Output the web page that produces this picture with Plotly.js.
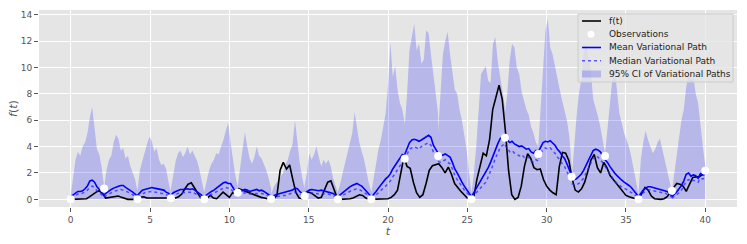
<!DOCTYPE html>
<html><head><meta charset="utf-8">
<script src="https://cdn.plot.ly/plotly-3.0.1.min.js"></script>
<style>html,body{margin:0;padding:0;background:#fff}#chart{width:747px;height:244px}</style>
</head><body><div id="chart"></div>
<script>
// Observation times and values
const obsT = [0, 2.105, 4.211, 6.316, 8.421, 10.526, 12.632, 14.737, 16.842, 18.947, 21.053, 23.158, 25.263, 27.368, 29.474, 31.579, 33.684, 35.789, 37.895, 40];
const obsY = [0, 0.83, 0, 0.08, 0, 0.5, 0.02, 0.25, 0, 0, 3.08, 3.28, 0, 4.67, 3.43, 1.71, 3.28, 0, 0.65, 2.17];

// true f(t) sampled every 0.2 from t=0 to t=40
const fStep = 0.2;
const fVals = [
0,0,0,0,0,0.05,0.2,0.4,0.55,0.65,
0.45,0.1,0.15,0.2,0.25,0.25,0.15,0.05,0,0,
0,0,0.15,0.2,0.1,0.1,0.05,0.05,0.05,0.05,
0.05,0.05,0.05,0.1,0.2,0.4,0.8,1.15,1.25,0.9,
0.45,0.1,0,0.1,0.3,0.1,0.05,0.3,0.55,0.35,
0.15,0.5,0.4,0.8,0.7,0.6,0.5,0.45,0.35,0.25,
0.15,0.1,0.05,0,0.05,0.3,2.2,2.8,2.3,2.6,
1.5,0.5,0.1,0.05,0.45,0.55,0.45,0.25,0.1,0.15,
0.7,1.3,1.4,0.7,0.1,0,0,0,0.05,0.1,
0.2,0.35,0.3,0.1,0,0,0,0,0,0,
0.05,0.15,0.35,0.7,1.9,3.2,2.5,2.35,1.3,0.5,
0.15,0.35,1.2,2.2,2.55,2.6,2.7,2.4,2.0,2.45,
1.9,1.2,0.85,0.6,0.35,0.1,0,0.1,1.5,2.6,
3.5,3.3,4.5,6.8,7.7,8.65,7.6,5.2,2.2,0.35,
0,0.15,1.0,2.5,3.45,3.1,2.4,2.25,2.3,1.5,
1.0,0.7,0.5,0.35,2.5,3.55,3.5,2.95,1.6,0.7,
0.55,0.8,1.3,2.2,3.0,3.4,2.4,2.0,2.8,2.4,
1.8,1.5,1.2,0.9,0.6,0.3,0.2,0.1,0.05,0,
0.4,0.9,0.7,0.25,0.05,0,0,0.05,0.2,0.55,
0.9,1.2,1.15,1.0,0.6,1.2,1.65,1.7,1.7,1.85,
1.95];

// Variational paths: 15 samples per interval between consecutive observations
const ptsPerSeg = 15;
const meanPath = [
[0.2,0.35,0.5,0.6,0.6,0.65,0.8,1.0,1.4,1.45,1.3,0.95,0.75,0.5,0.3],
[0.35,0.5,0.65,0.75,0.85,0.95,1.0,1.05,1.05,0.9,0.8,0.7,0.55,0.4,0.25],
[0.3,0.5,0.7,0.75,0.8,0.85,0.9,0.85,0.8,0.75,0.7,0.7,0.55,0.45,0.25],
[0.3,0.5,0.6,0.7,0.75,0.75,0.8,0.8,0.75,0.8,0.7,0.55,0.45,0.3,0.2],
[0.2,0.35,0.5,0.6,0.7,0.85,0.95,1.15,1.25,1.3,1.2,1.2,0.9,0.6,0.3],
[0.5,0.6,0.7,0.75,0.7,0.6,0.65,0.7,0.75,0.65,0.7,0.6,0.5,0.35,0.2],
[0.2,0.3,0.35,0.4,0.45,0.45,0.5,0.55,0.6,0.7,0.85,0.8,0.6,0.4,0.25],
[0.45,0.6,0.7,0.75,0.7,0.7,0.65,0.7,0.65,0.6,0.6,0.55,0.45,0.3,0.15],
[0.2,0.35,0.55,0.7,0.8,0.95,1.05,1.15,1.2,1.1,1.0,0.8,0.6,0.4,0.2],
[0.15,0.35,0.6,0.85,1.1,1.35,1.55,1.7,1.95,2.3,2.6,2.9,3.2,3.4,3.3],
[3.4,3.9,4.3,4.5,4.55,4.5,4.4,4.5,4.6,4.75,4.85,4.7,4.1,3.8,3.5],
[3.3,3.3,3.35,3.45,3.3,3.2,2.8,2.3,2.0,1.6,1.3,1.0,0.75,0.45,0.2],
[0.2,0.5,0.8,1.1,1.4,1.7,2.0,2.4,2.8,3.3,3.8,4.2,4.6,4.75,4.7],
[4.6,4.5,4.3,4.4,4.2,4.1,4.0,4.05,3.9,3.8,3.85,3.6,3.5,3.7,3.4],
[3.6,4.0,4.3,4.4,4.35,4.45,4.3,4.1,3.8,3.6,3.3,3.1,2.7,2.2,1.8],
[1.6,1.5,1.55,1.7,1.9,2.2,2.6,3.0,3.4,3.7,3.8,3.75,3.6,3.3,3.0],
[3.0,2.8,2.5,2.2,2.0,1.8,1.6,1.45,1.3,1.2,1.05,0.9,0.7,0.45,0.2],
[0.2,0.45,0.7,0.85,0.95,0.95,0.9,0.9,0.85,0.75,0.75,0.7,0.6,0.45,0.25],
[0.2,0.35,0.55,0.8,1.05,1.4,1.9,2.0,1.75,1.85,1.8,1.6,1.95,1.85,1.9]
];
const medianPath = [
[0.1,0.2,0.3,0.4,0.4,0.45,0.55,0.7,0.9,1.0,0.9,0.65,0.5,0.35,0.2],
[0.2,0.3,0.45,0.5,0.6,0.65,0.7,0.75,0.7,0.65,0.55,0.45,0.35,0.25,0.15],
[0.2,0.3,0.45,0.5,0.55,0.6,0.6,0.55,0.55,0.5,0.45,0.45,0.35,0.3,0.15],
[0.2,0.3,0.4,0.45,0.5,0.5,0.55,0.55,0.5,0.55,0.45,0.35,0.3,0.2,0.1],
[0.1,0.2,0.3,0.4,0.45,0.55,0.65,0.75,0.85,0.9,0.85,0.8,0.6,0.4,0.2],
[0.3,0.4,0.45,0.5,0.45,0.4,0.45,0.45,0.5,0.45,0.45,0.4,0.35,0.25,0.1],
[0.1,0.15,0.2,0.25,0.3,0.3,0.3,0.35,0.4,0.45,0.55,0.5,0.4,0.25,0.15],
[0.3,0.4,0.45,0.5,0.45,0.45,0.4,0.45,0.4,0.4,0.4,0.35,0.3,0.2,0.1],
[0.1,0.2,0.35,0.45,0.55,0.65,0.7,0.75,0.8,0.75,0.65,0.55,0.4,0.25,0.1],
[0.1,0.2,0.35,0.5,0.7,0.85,1.0,1.2,1.4,1.7,2.0,2.3,2.6,2.8,2.8],
[3.0,3.4,3.8,3.9,4.0,3.9,3.8,4.0,4.1,4.2,4.3,4.1,3.6,3.3,3.1],
[2.9,2.8,2.9,3.0,2.8,2.7,2.3,1.8,1.5,1.2,0.9,0.7,0.5,0.3,0.15],
[0.15,0.3,0.5,0.7,0.9,1.1,1.3,1.7,2.1,2.6,3.1,3.5,3.9,4.1,4.2],
[4.1,3.9,3.6,3.7,3.5,3.4,3.3,3.4,3.2,3.1,3.2,2.9,2.8,3.0,2.9],
[3.1,3.5,3.8,3.9,3.8,3.9,3.7,3.5,3.2,3.0,2.7,2.5,2.1,1.7,1.4],
[1.2,1.1,1.1,1.2,1.4,1.6,2.0,2.4,2.8,3.1,3.3,3.2,3.0,2.8,2.5],
[2.5,2.2,1.9,1.6,1.4,1.2,1.05,0.95,0.85,0.75,0.65,0.55,0.4,0.25,0.1],
[0.1,0.3,0.5,0.6,0.7,0.7,0.65,0.65,0.6,0.55,0.5,0.5,0.4,0.3,0.15],
[0.1,0.2,0.35,0.5,0.7,1.0,1.4,1.5,1.35,1.45,1.4,1.3,1.6,1.55,1.65]
];
const ciUpper = [
[0.3,1.5,3.0,3.6,3.3,4.0,4.3,5.0,6.2,7.0,5.5,3.8,3.4,2.4,1.0],
[0.9,2.2,3.0,3.3,4.3,4.9,4.6,3.7,3.9,3.1,3.3,2.5,2.0,1.5,0.6],
[0.7,2.2,2.9,3.6,4.2,4.75,4.4,3.6,3.9,3.0,2.6,2.7,2.3,1.3,0.5],
[0.8,1.9,2.9,3.5,3.7,3.2,3.5,4.0,3.4,3.7,3.3,2.9,2.2,1.4,0.5],
[0.6,1.5,2.2,2.7,3.0,3.5,3.4,4.0,4.5,5.2,5.8,4.3,3.0,1.8,0.9],
[1.0,2.5,3.7,5.1,4.0,3.1,2.7,3.2,4.0,3.3,3.1,2.7,2.2,1.6,0.8],
[0.4,0.9,1.2,1.5,1.7,2.0,2.6,3.0,3.7,4.2,6.0,4.3,2.8,1.7,0.8],
[1.0,2.0,3.5,3.0,3.4,4.0,3.2,2.5,3.0,2.7,3.0,2.5,1.6,1.0,0.5],
[0.6,1.2,2.0,2.7,3.5,4.2,5.0,6.6,5.3,4.3,3.6,3.0,2.1,1.2,0.6],
[0.5,1.6,2.8,3.8,4.5,5.5,6.5,8.6,11.9,9.3,10.1,8.3,7.3,6.8,5.8],
[5.5,8.0,11.3,12.4,13.3,11.3,11.8,10.3,10.6,12.8,12.6,11.0,9.5,8.0,6.5],
[5.0,8.5,11.0,12.0,12.7,11.0,9.5,8.3,8.0,6.8,6.0,5.0,3.7,2.0,0.5],
[0.5,2.0,4.0,7.0,9.5,9.8,10.1,9.0,8.8,11.8,12.3,10.5,9.4,8.0,7.0],
[6.5,8.0,10.5,11.8,11.5,10.0,9.5,8.2,7.5,6.8,6.4,5.5,5.0,4.3,4.0],
[4.0,7.0,9.8,12.8,13.7,11.5,11.0,10.0,9.0,8.3,7.5,6.8,6.0,4.8,2.5],
[1.5,4.0,6.2,8.0,9.0,11.0,11.8,10.8,9.8,7.6,7.0,6.3,5.5,4.5,3.5],
[3.5,5.5,7.5,9.0,10.0,8.0,6.5,5.8,5.0,4.5,4.0,3.2,2.3,1.3,0.4],
[0.4,3.0,4.3,5.2,4.5,4.0,3.5,3.8,4.3,4.6,3.8,3.0,2.4,1.5,0.6],
[0.6,2.0,3.5,4.5,6.0,6.8,8.5,9.5,9.0,9.3,8.0,7.3,5.5,4.0,2.5]
];

const xTicks = [0,5,10,15,20,25,30,35,40];
const yTicks = [0,2,4,6,8,10,12,14];
const legendLabels = ['f(t)', 'Observations', 'Mean Variational Path', 'Median Variational Path', '95% CI of Variational Paths'];

const BAND = 'rgba(0,0,255,0.2)';
const MEDIAN_COLOR = 'rgba(40,40,255,0.75)';

function segT(k){
  const a = obsT[k], b = obsT[k+1], out = [];
  for (let i = 0; i < ptsPerSeg; i++) out.push(a + (b - a) * i / (ptsPerSeg - 1));
  return out;
}
function joined(segs){
  const x = [], y = [];
  segs.forEach((s, k) => { const t = segT(k); s.forEach((v, i) => { x.push(t[i]); y.push(v); }); x.push(null); y.push(null); });
  return {x, y};
}

const traces = [];
ciUpper.forEach((s, k) => {
  traces.push({x: segT(k), y: s, type: 'scatter', mode: 'lines', fill: 'tozeroy',
    fillcolor: BAND, line: {width: 0, color: BAND}, showlegend: false, hoverinfo: 'skip'});
});
traces.push({x: fVals.map((v, i) => i * fStep), y: fVals, type: 'scatter', mode: 'lines',
  line: {color: '#000', width: 1.6}, name: legendLabels[0]});
const m = joined(meanPath);
traces.push({x: m.x, y: m.y, type: 'scatter', mode: 'lines', line: {color: '#0000ff', width: 1.6},
  name: legendLabels[2], connectgaps: false});
const md = joined(medianPath);
traces.push({x: md.x, y: md.y, type: 'scatter', mode: 'lines', line: {color: MEDIAN_COLOR, width: 1.5, dash: 'dot'},
  name: legendLabels[3], connectgaps: false});
traces.push({x: obsT, y: obsY, type: 'scatter', mode: 'markers', marker: {color: '#fff', size: 8},
  name: legendLabels[1]});

// Hand-built legend box (pixel placement converted to paper coordinates)
const ML = 39, MT = 10, PW = 698, PH = 197;
const px = v => (v - ML) / PW;
const py = v => 1 - (v - MT) / PH;
const rowY = [21, 34.3, 47.5, 60.8, 74];
const shapes = [
  {type: 'rect', xref: 'paper', yref: 'paper', x0: px(578), x1: px(733), y0: py(14), y1: py(82),
   fillcolor: 'rgba(229,229,229,0.8)', line: {color: '#cccccc', width: 1}},
  {type: 'line', xref: 'paper', yref: 'paper', x0: px(582), x1: px(601), y0: py(rowY[0]), y1: py(rowY[0]), line: {color: '#000', width: 1.6}},
  {type: 'circle', xref: 'paper', yref: 'paper', x0: px(587.5), x1: px(594.5), y0: py(rowY[1] - 3.5), y1: py(rowY[1] + 3.5), fillcolor: '#fff', line: {width: 0}},
  {type: 'line', xref: 'paper', yref: 'paper', x0: px(582), x1: px(601), y0: py(rowY[2]), y1: py(rowY[2]), line: {color: '#0000ff', width: 1.6}},
  {type: 'line', xref: 'paper', yref: 'paper', x0: px(582), x1: px(601), y0: py(rowY[3]), y1: py(rowY[3]), line: {color: MEDIAN_COLOR, width: 1.5, dash: 'dot'}},
  {type: 'rect', xref: 'paper', yref: 'paper', x0: px(582), x1: px(601), y0: py(rowY[4] - 3.5), y1: py(rowY[4] + 3.5), fillcolor: BAND, line: {width: 0}}
];
const annotations = legendLabels.map((txt, i) => ({
  text: txt, xref: 'paper', yref: 'paper', x: px(607), y: py(rowY[i]), xanchor: 'left', yanchor: 'middle',
  showarrow: false, font: {family: 'DejaVu Sans', size: 9, color: '#222'}
}));

const layout = {
  width: 747, height: 244,
  margin: {l: 39, r: 10, t: 10, b: 37},
  paper_bgcolor: '#fff', plot_bgcolor: '#E5E5E5',
  font: {family: 'DejaVu Sans', size: 9, color: '#555'},
  showlegend: false,
  xaxis: {range: [-2, 42], tickvals: xTicks, ticks: 'outside', ticklen: 4, tickcolor: '#555', tickwidth: 1,
    gridcolor: '#fff', gridwidth: 1, zeroline: false, showline: false,
    title: {text: '<i>t</i>', font: {size: 11, color: '#555'}, standoff: 3}},
  yaxis: {range: [-0.58, 14.35], tickvals: yTicks, ticks: 'outside', ticklen: 4, tickcolor: '#555', tickwidth: 1,
    gridcolor: '#fff', gridwidth: 1, zeroline: false, showline: false,
    title: {text: '<i>f</i>(<i>t</i>)', font: {size: 11, color: '#555'}, standoff: 0}},
  shapes: shapes,
  annotations: annotations
};
Plotly.newPlot('chart', traces, layout, {displayModeBar: false, staticPlot: true});
</script></body></html>
